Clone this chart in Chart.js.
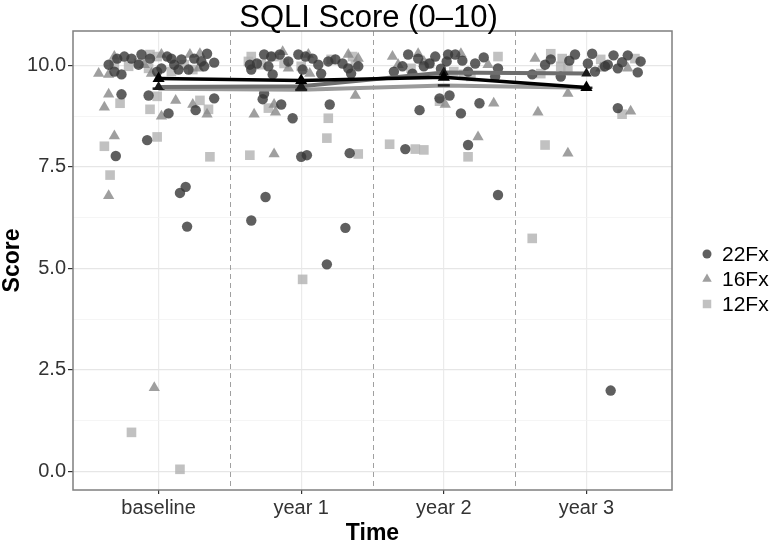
<!DOCTYPE html>
<html>
<head>
<meta charset="utf-8">
<script src="https://cdn.jsdelivr.net/npm/chart.js@4.4.1/dist/chart.umd.min.js"></script>
<style>
  body { margin: 0; background: #fff; }
</style>
</head>
<body>
<canvas id="chart" width="775" height="543"></canvas>
<script>
Chart.defaults.font.family = '"Liberation Sans", Arial, sans-serif';
Chart.defaults.color = "#333";

const categories = ["baseline", "year 1", "year 2", "year 3"];
const groups = ["22Fx", "16Fx", "12Fx"];
const yTicks = [0, 1.25, 2.5, 3.75, 5, 6.25, 7.5, 8.75, 10];

// group means per time point
const mean22 = [9.68, 9.63, 9.71, 9.46];
const mean16 = [9.47, 9.49, 9.83, 9.80];
const mean12 = [9.43, 9.40, 9.51, 9.45];

// individual scores, [jittered time position, score]
const pts22 = [
  [0.65,10.02],[0.69,9.85],[0.71,10.17],[0.76,10.22],[0.74,9.78],[0.81,10.17],[0.88,10.27],[0.94,10.17],
  [0.99,9.85],[1.06,10.22],[1.09,10.17],[1.11,10.02],[1.16,10.15],[1.21,9.90],[1.25,10.17],[1.30,10.10],
  [1.34,10.29],[1.39,10.07],[1.32,9.98],[1.02,9.93],[1.14,9.90],[0.86,10.02],
  [0.74,9.29],[0.93,9.26],[1.39,9.19],[1.26,8.90],[1.07,8.82],[0.92,8.16],[0.70,7.77],[1.15,6.86],[1.19,7.01],[1.20,6.03],
  [1.65,9.90],[1.64,10.02],[1.69,10.05],[1.74,10.27],[1.79,10.22],[1.85,10.27],[1.80,9.78],[1.77,9.98],
  [1.98,10.27],[2.03,10.22],[2.08,10.17],[2.12,10.02],[2.14,9.80],[2.01,9.90],[2.19,10.10],[2.24,10.15],
  [2.29,10.05],[2.33,9.93],[2.35,9.80],[2.40,9.98],[1.91,10.10],
  [1.74,9.31],[1.73,9.17],[1.86,9.04],[1.94,8.70],[2.20,9.04],[2.00,7.75],[2.04,7.79],[2.34,7.84],
  [1.65,6.18],[1.75,6.76],[2.18,5.10],[2.31,6.00],
  [2.75,10.27],[2.82,10.17],[2.86,9.98],[2.71,9.98],[2.65,9.85],[2.94,10.22],[3.03,10.27],[3.08,10.27],
  [3.02,10.10],[3.22,10.05],[3.38,9.93],[3.36,9.73],[3.17,9.85],[2.78,9.80],[2.90,10.05],[3.13,10.12],
  [3.28,10.20],[2.98,9.92],
  [2.83,8.90],[2.97,9.19],[3.04,9.26],[3.12,8.82],[3.25,9.07],[3.17,8.04],[2.73,7.94],[3.38,6.81],
  [3.71,10.02],[3.75,10.15],[3.92,10.27],[4.04,10.29],[4.01,10.05],[4.06,9.85],[4.15,10.02],[4.19,10.25],
  [4.22,9.93],[4.29,10.25],[4.38,10.10],[4.36,9.83],[3.62,9.78],[3.82,9.73],[4.13,9.98],[4.25,10.08],[3.88,10.12],
  [4.22,8.95],[4.17,1.99]
];
const pts16 = [
  [0.58,9.80],[0.65,9.78],[0.69,10.22],[0.90,10.02],[1.02,10.27],[1.22,10.27],[1.29,10.29],[1.28,9.93],[0.95,9.80],
  [0.65,9.29],[0.62,8.97],[1.12,9.14],[1.24,9.04],[1.34,8.80],[1.02,8.75],[0.69,8.26],[0.65,6.79],[0.97,2.06],
  [1.87,10.34],[2.33,10.27],[2.40,10.17],[2.05,10.27],[1.91,9.93],[2.06,9.80],
  [1.81,9.04],[1.82,8.85],[1.67,8.80],[2.38,9.26],[1.81,7.82],
  [2.64,10.22],[2.82,10.29],[3.12,10.29],[3.31,10.02],[2.68,10.02],[2.86,10.10],
  [3.01,9.04],[3.35,9.07],[3.24,8.24],
  [3.64,10.17],[4.29,9.93],[4.10,9.93],
  [3.87,9.31],[3.66,8.85],[3.87,7.84],[4.31,8.87]
];
const pts12 = [
  [0.94,10.27],[0.99,10.22],[0.86,10.05],[0.79,9.98],[0.69,10.02],[1.18,10.02],[1.24,9.90],[0.93,9.93],[1.09,9.85],
  [0.73,9.07],[0.99,9.24],[1.29,9.14],[1.35,8.92],[0.94,8.92],[0.99,8.24],[0.62,8.01],[1.36,7.75],[0.66,7.30],
  [0.81,0.96],[1.15,0.05],
  [1.65,10.22],[1.63,10.10],[1.72,10.02],[1.88,10.05],[2.00,9.98],[2.21,10.15],[2.36,10.22],[2.38,10.02],[1.81,10.22],
  [1.77,8.95],[2.19,8.70],[2.18,8.21],[1.64,7.79],[2.40,7.82],[2.01,4.73],
  [3.38,10.22],[3.19,9.73],[3.14,9.78],[2.90,10.05],[2.77,9.93],[3.07,9.85],
  [2.97,9.12],[3.17,7.75],[2.62,8.06],[2.80,7.94],[2.86,7.92],
  [3.75,10.29],[3.83,10.17],[3.82,9.98],[3.87,9.93],[4.10,10.15],[4.34,10.17],[3.68,9.80],
  [3.71,8.04],[4.25,8.80],[3.62,5.74]
];

const toXY = arr => arr.map(([x, y]) => ({ x, y }));
const meanXY = arr => arr.map((y, i) => ({ x: i + 1, y }));

/* ------------------------------
   extra drawing: dashed separators, panel border, title, legend
------------------------------- */
const decor = {
  id: "decor",
  beforeDatasetsDraw(chart) {
    const { ctx, chartArea: a, scales: { x } } = chart;
    ctx.save();
    ctx.strokeStyle = "#a0a0a0";
    ctx.lineWidth = 1;
    ctx.setLineDash([5, 4]);
    for (let i = 1; i < categories.length; i++) {
      const px = Math.round(x.getPixelForValue(i + 0.5)) + 0.5;
      ctx.beginPath();
      ctx.moveTo(px, a.top);
      ctx.lineTo(px, a.bottom);
      ctx.stroke();
    }
    ctx.restore();
  },
  afterDraw(chart) {
    const { ctx, chartArea: a } = chart;
    ctx.save();
    ctx.strokeStyle = "#7f7f7f";
    ctx.lineWidth = 1.5;
    ctx.strokeRect(a.left, a.top, a.right - a.left, a.bottom - a.top);

    ctx.fillStyle = "#000";
    ctx.font = '31px "Liberation Sans", Arial, sans-serif';
    ctx.textAlign = "center";
    ctx.textBaseline = "middle";
    ctx.fillText("SQLI Score (0\u201310)", (a.left + a.right) / 2 - 4, 18);

    // legend
    ctx.font = '21px "Liberation Sans", Arial, sans-serif';
    ctx.textAlign = "left";
    chart.data.datasets.slice(3).forEach((ds, i) => {
      const y = 254 + i * 25;
      ctx.fillStyle = ds.backgroundColor;
      Chart.helpers.drawPoint(ctx, { pointStyle: ds.pointStyle, radius: ds.legendRadius, rotation: 0, borderWidth: 0 }, 707, y);
      ctx.fillStyle = "#000";
      ctx.fillText(ds.label, 722, y + 1);
    });
    ctx.restore();
  }
};

new Chart(document.getElementById("chart"), {
  type: "scatter",
  data: {
    datasets: [
      { label: "mean " + groups[0], data: meanXY(mean22), showLine: true, borderColor: "#000", borderWidth: 3.5,
        pointStyle: "triangle", pointRadius: 7, pointBackgroundColor: "#000", pointBorderWidth: 0, order: 0 },
      { label: "mean " + groups[1], data: meanXY(mean16), showLine: true, borderColor: "#6e6e6e", borderWidth: 4,
        pointStyle: "triangle", pointRadius: 6, pointBackgroundColor: "#1a1a1a", pointBorderWidth: 0, order: 1 },
      { label: "mean " + groups[2], data: meanXY(mean12), showLine: true, borderColor: "#9a9a9a", borderWidth: 4,
        pointStyle: "line", pointRadius: 6, pointBorderColor: "#222", pointBorderWidth: 2.5, order: 1 },
      { label: groups[0], data: toXY(pts22), pointStyle: "circle", pointRadius: 5.2, legendRadius: 4.5,
        backgroundColor: "rgba(55,55,55,0.8)", borderWidth: 0, order: 2 },
      { label: groups[1], data: toXY(pts16), pointStyle: "triangle", pointRadius: 6.5, legendRadius: 5.5,
        backgroundColor: "rgba(135,135,135,0.8)", borderWidth: 0, order: 3 },
      { label: groups[2], data: toXY(pts12), pointStyle: "rect", pointRadius: 6.8, legendRadius: 6,
        backgroundColor: "rgba(178,178,178,0.8)", borderWidth: 0, order: 4 }
    ]
  },
  options: {
    responsive: false,
    animation: false,
    layout: { padding: { top: 31, right: 103, left: 0, bottom: 0 } },
    plugins: { legend: { display: false }, tooltip: { enabled: false } },
    scales: {
      x: {
        type: "linear",
        min: 0.4,
        max: 4.6,
        afterBuildTicks: s => { s.ticks = categories.map((c, i) => ({ value: i + 1 })); },
        afterFit: s => { s.height = 53; },
        ticks: { callback: v => categories[v - 1], color: "#333", font: { size: 20 }, padding: 2, maxRotation: 0, autoSkip: false },
        grid: { color: "#ebebeb", lineWidth: 1.2, tickLength: 4, tickColor: "#333", tickWidth: 1.2 },
        border: { display: false },
        title: { display: true, text: "Time", color: "#000", font: { size: 23, weight: "bold", lineHeight: 0.8 }, padding: { top: 0, bottom: 0 } }
      },
      y: {
        min: -0.46,
        max: 10.85,
        afterBuildTicks: s => { s.ticks = yTicks.map(v => ({ value: v })); },
        afterFit: s => { s.width = 73; },
        ticks: { callback: v => (v % 2.5 === 0 ? v.toFixed(1) : ""), color: "#333", font: { size: 20 }, padding: 2 },
        grid: {
          color: c => (c.tick && c.tick.value % 2.5 === 0 ? "#e6e6e6" : "#f3f3f3"),
          lineWidth: c => (c.tick && c.tick.value % 2.5 === 0 ? 1.2 : 0.8),
          tickLength: 5,
          tickColor: c => (c.tick && c.tick.value % 2.5 === 0 ? "#333" : "rgba(0,0,0,0)"),
          tickWidth: 1.2
        },
        border: { display: false },
        title: { display: true, text: "Score", color: "#000", font: { size: 23, weight: "bold", lineHeight: 1 }, padding: { top: 1, bottom: 0 } }
      }
    }
  },
  plugins: [decor]
});
</script>
</body>
</html>
